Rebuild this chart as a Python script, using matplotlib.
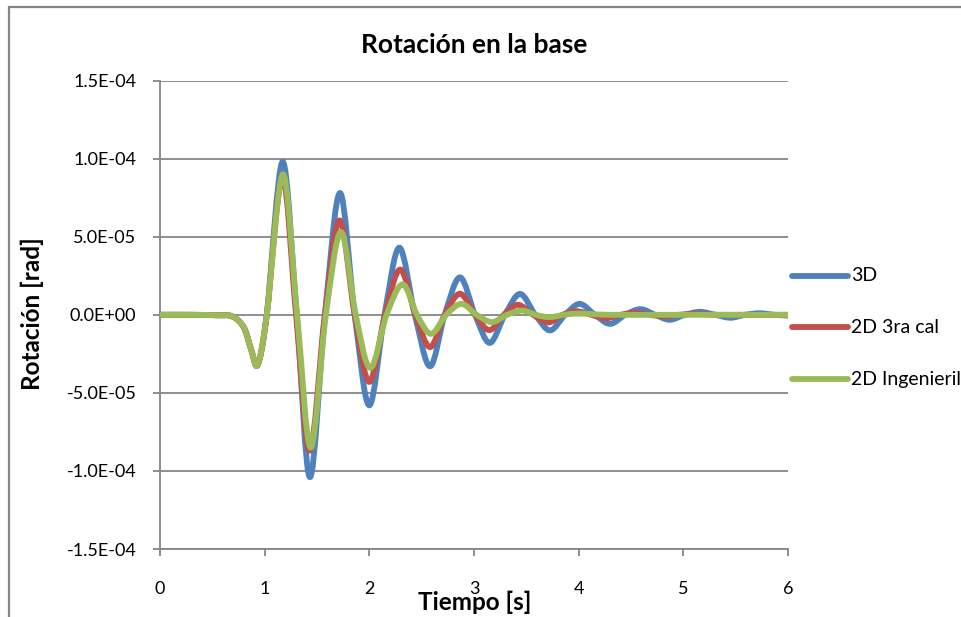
import numpy as np
import matplotlib
matplotlib.use("Agg")
import matplotlib.pyplot as plt
from matplotlib.path import Path
from matplotlib.patches import PathPatch, Rectangle
from matplotlib.lines import Line2D
from matplotlib.ticker import FuncFormatter

plt.rcParams['font.family'] = ['Lato', 'DejaVu Sans']

# ---- data ----
t_3d = [0.0, 0.3, 0.55, 0.69, 0.80, 0.87, 0.933, 1.02, 1.172, 1.306, 1.433, 1.576, 1.72, 1.86, 2.00,
        2.145, 2.287, 2.435, 2.58, 2.72, 2.866, 3.01, 3.15, 3.295, 3.44, 3.585, 3.726, 3.87, 4.01,
        4.155, 4.30, 4.445, 4.59, 4.73, 4.87, 5.015, 5.16, 5.305, 5.45, 5.59, 5.73, 5.87, 6.0]
v_3d = [0.0, 0.0, -3e-7, -1e-6, -8e-6, -2.2e-5, -3.2e-5, 0.0, 9.8e-5, 0.0, -1.04e-4, 0.0, 7.8e-5, 0.0, -5.8e-5,
        0.0, 4.3e-5, 0.0, -3.3e-5, 0.0, 2.4e-5, 0.0, -1.8e-5, 0.0, 1.34e-5, 0.0, -1.0e-5, 0.0, 7.0e-6,
        0.0, -5.8e-6, 0.0, 3.6e-6, 0.0, -3.2e-6, 0.0, 1.9e-6, 0.0, -1.9e-6, 0.0, 1.0e-6, 0.0, -5e-7]

t_2d3 = [0.0, 0.3, 0.55, 0.69, 0.80, 0.87, 0.933, 1.02, 1.17, 1.30, 1.43, 1.575, 1.715, 1.86, 2.00,
         2.15, 2.295, 2.44, 2.58, 2.72, 2.866, 3.01, 3.147, 3.285, 3.42, 3.565, 3.71, 3.845, 3.98,
         4.12, 4.26, 4.40, 4.54, 4.68, 4.82, 4.96, 5.10, 5.30, 5.6, 6.0]
v_2d3 = [0.0, 0.0, -3e-7, -1e-6, -8e-6, -2.2e-5, -3.2e-5, 0.0, 8.8e-5, 0.0, -8.7e-5, 0.0, 6.05e-5, 0.0, -4.3e-5,
         0.0, 2.9e-5, 0.0, -2.07e-5, 0.0, 1.35e-5, 0.0, -9.8e-6, 0.0, 6.4e-6, 0.0, -4.9e-6, 0.0, 2.3e-6,
         0.0, -2.2e-6, 0.0, 1.3e-6, 0.0, -1.0e-6, 0.0, 6e-7, 0.0, 0.0, 0.0]

t_2di = [0.0, 0.3, 0.55, 0.69, 0.80, 0.87, 0.933, 1.02, 1.175, 1.31, 1.44, 1.585, 1.73, 1.87, 2.01,
         2.165, 2.318, 2.455, 2.59, 2.735, 2.88, 3.025, 3.17, 3.315, 3.46, 3.59, 3.72, 3.86, 4.0,
         4.3, 4.8, 5.4, 6.0]
v_2di = [0.0, 0.0, -3e-7, -1e-6, -8e-6, -2.2e-5, -3.2e-5, 0.0, 9.0e-5, 0.0, -8.5e-5, 0.0, 5.3e-5, 0.0, -3.4e-5,
         0.0, 1.95e-5, 0.0, -1.22e-5, 0.0, 7.0e-6, 0.0, -4.7e-6, 0.0, 2.7e-6, 0.0, -1.5e-6, 0.0, 8e-7,
         0.0, 0.0, 0.0, 0.0]

series_names = ["3D", "2D 3ra cal", "2D Ingenieril"]
series_colors = ["#4F81BD", "#C0504D", "#9BBB59"]
xticks = [0, 1, 2, 3, 4, 5, 6]
yticks = [-1.5e-4, -1.0e-4, -5.0e-5, 0.0, 5.0e-5, 1.0e-4, 1.5e-4]

title = "Rotación en la base"
xlabel = "Tiempo [s]"
ylabel = "Rotación [rad]"

W, H = 961, 617
fig = plt.figure(figsize=(W / 100, H / 100), dpi=100)
fig.patch.set_facecolor("white")

# outer chart frame
fig.add_artist(Rectangle((8.5 / W, -0.2), 2.0, 1.2 - 6.5 / H, transform=fig.transFigure,
                         fill=False, edgecolor="#868686", lw=1.6))

ax = fig.add_axes([160 / W, 1 - 549 / H, (788 - 160) / W, (549 - 80.6) / H])
ax.set_xlim(0, 6)
ax.set_ylim(-1.5e-4, 1.5e-4)

gray = "#868686"
for s in ["top", "right"]:
    ax.spines[s].set_visible(False)
for s in ["left", "bottom"]:
    ax.spines[s].set_color(gray)
    ax.spines[s].set_linewidth(1.3)

ax.set_xticks(xticks)
ax.set_yticks(yticks)
ax.yaxis.set_major_formatter(FuncFormatter(lambda v, p: f"{v:.1E}"))
ax.tick_params(axis="both", colors=gray, length=5, width=1.3, labelcolor="black", labelsize=13)
ax.tick_params(axis="y", pad=12)
ax.tick_params(axis="x", pad=18)
ax.grid(axis="y", color=gray, lw=1.3)
ax.set_axisbelow(True)


def smooth_path(x, y):
    x = np.asarray(x, float)
    y = np.asarray(y, float)
    pts = np.column_stack([x, y])
    n = len(pts)
    verts = [pts[0]]
    codes = [Path.MOVETO]
    for i in range(n - 1):
        p0 = pts[i - 1] if i > 0 else pts[i]
        p1 = pts[i]
        p2 = pts[i + 1]
        p3 = pts[i + 2] if i + 2 < n else pts[i + 1]
        c1 = p1 + (p2 - p0) / 6.0
        c2 = p2 - (p3 - p1) / 6.0
        verts += [c1, c2, p2]
        codes += [Path.CURVE4] * 3
    return Path(verts, codes)


for (tx, vy), name, col in zip([(t_3d, v_3d), (t_2d3, v_2d3), (t_2di, v_2di)], series_names, series_colors):
    patch = PathPatch(smooth_path(tx, vy), facecolor="none", edgecolor=col, lw=4.2,
                      capstyle="round", joinstyle="round", zorder=3)
    ax.add_patch(patch)

# legend (manual, Excel style)
leg_y = [275.5, 327.3, 379.0]
for name, col, yy in zip(series_names, series_colors, leg_y):
    fig.add_artist(Line2D([792 / W, 848 / W], [1 - yy / H, 1 - yy / H], transform=fig.transFigure,
                          color=col, lw=4.2, solid_capstyle="round"))
    fig.text(851 / W, 1 - yy / H, name, fontsize=14, va="center", ha="left")

fig.text(474 / W, 1 - 45 / H, title, fontsize=19, fontweight="bold", ha="center", va="center")
fig.text(475 / W, 1 - 602 / H, xlabel, fontsize=17.5, fontweight="bold", ha="center", va="center")
fig.text(32 / W, 1 - 314 / H, ylabel, fontsize=17.5, fontweight="bold", ha="center", va="center",
         rotation=90)

fig.savefig("out.png", dpi=100)
